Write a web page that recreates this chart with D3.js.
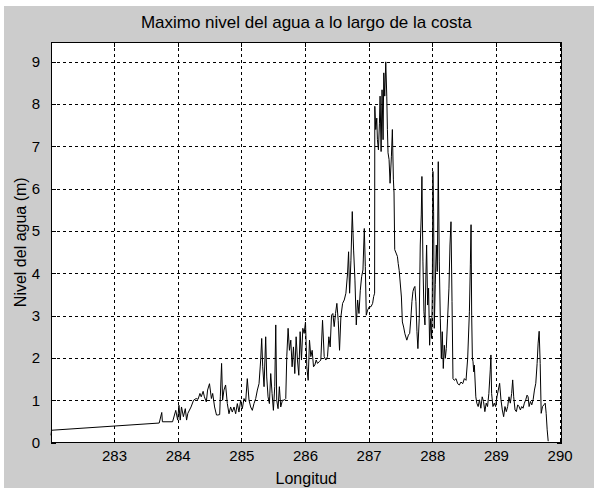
<!DOCTYPE html>
<html>
<head>
<meta charset="utf-8">
<script src="https://cdn.jsdelivr.net/npm/d3@7/dist/d3.min.js"></script>
<style>
  html, body { margin: 0; padding: 0; background: #ffffff; }
  text { font-family: "Liberation Sans", Arial, sans-serif; fill: #000; }
</style>
</head>
<body>
<svg id="chart" width="594" height="488"></svg>
<script>
// Longitud (grados) de cada punto de la costa
const longitud = [
  282.01, 282.02, 283.71, 283.75, 283.76, 283.92, 283.97, 284.00, 284.02, 284.04,
  284.06, 284.09, 284.12, 284.14, 284.16, 284.21, 284.25, 284.29, 284.32, 284.35,
  284.37, 284.40, 284.42, 284.45, 284.47, 284.50, 284.53, 284.55, 284.58, 284.61,
  284.63, 284.66, 284.67, 284.69,
  284.706, 284.727, 284.753, 284.780, 284.806, 284.832, 284.858, 284.885, 284.911, 284.937,
  284.963, 284.990, 285.016, 285.042, 285.068, 285.094, 285.121, 285.147, 285.173, 285.199,
  285.226, 285.252, 285.278, 285.304, 285.320, 285.336, 285.357, 285.383, 285.399, 285.420,
  285.441, 285.462, 285.483, 285.504, 285.525, 285.541, 285.556, 285.577, 285.598, 285.619,
  285.646, 285.672, 285.698, 285.714, 285.735, 285.756, 285.777, 285.798, 285.819, 285.840,
  285.861, 285.882, 285.903, 285.924, 285.945, 285.966, 285.987, 286.008, 286.029, 286.050,
  286.071, 286.092, 286.113, 286.134, 286.155, 286.176, 286.197, 286.223, 286.249, 286.276,
  286.302, 286.328, 286.354, 286.375, 286.396, 286.417, 286.438, 286.459, 286.480, 286.501,
  286.522, 286.543, 286.564, 286.591, 286.617, 286.643, 286.669, 286.685, 286.701, 286.722,
  286.743, 286.764, 286.785, 286.806, 286.827, 286.848, 286.869, 286.890, 286.911, 286.932,
  286.948, 286.963, 286.984, 287.010, 287.037, 287.063, 287.079, 287.094,
  287.097, 287.112, 287.128, 287.138, 287.154, 287.170, 287.180, 287.196, 287.211, 287.227,
  287.238, 287.253, 287.269, 287.285, 287.295, 287.305, 287.321, 287.337, 287.358, 287.373,
  287.389, 287.399, 287.410, 287.431, 287.452, 287.465, 287.480, 287.515, 287.530, 287.550,
  287.570, 287.600, 287.625, 287.645, 287.665,
  287.680, 287.696, 287.711, 287.727, 287.743, 287.759, 287.774, 287.795, 287.811, 287.827,
  287.837, 287.853, 287.869, 287.885, 287.900, 287.911, 287.927, 287.942, 287.958, 287.974,
  287.990, 288.000, 288.010, 288.021, 288.031, 288.047, 288.063, 288.079, 288.094, 288.110,
  288.126, 288.142, 288.157, 288.173, 288.189, 288.205, 288.220, 288.241, 288.262, 288.278,
  288.294, 288.310, 288.325, 288.346, 288.373, 288.399, 288.425, 288.451, 288.478, 288.504,
  288.530, 288.556, 288.583, 288.598, 288.609, 288.619, 288.630, 288.640, 288.651, 288.661,
  288.684, 288.700, 288.721, 288.742, 288.763, 288.784, 288.805, 288.826, 288.847, 288.868,
  288.889, 288.911, 288.921, 288.932, 288.953, 288.974, 288.995, 289.016, 289.037, 289.058,
  289.079, 289.100, 289.121, 289.142, 289.163, 289.184, 289.205, 289.226, 289.247, 289.263,
  289.279, 289.300, 289.321, 289.342, 289.363, 289.384, 289.405, 289.426, 289.447, 289.468,
  289.489, 289.505, 289.521, 289.542, 289.563, 289.584, 289.605, 289.626, 289.647, 289.663,
  289.679, 289.695, 289.711, 289.732, 289.753, 289.774, 289.789, 289.805, 289.821
];

// Máximo nivel del agua (m) en cada punto
const nivel = [
  0.17, 0.29, 0.46, 0.71, 0.49, 0.49, 0.76, 0.53, 0.88, 0.53,
  0.84, 0.61, 0.80, 0.53, 0.69, 0.84, 1.00, 1.04, 1.02, 1.16,
  1.08, 1.21, 1.08, 0.96, 1.24, 1.39, 1.04, 1.16, 0.84, 0.65,
  0.65, 0.66, 1.08, 1.87,
  1.00, 1.24, 1.36, 0.92, 0.68, 0.84, 0.72, 0.84, 0.68, 0.92,
  0.72, 1.00, 0.80, 1.04, 0.96, 1.51, 1.00, 0.84, 0.76, 0.92,
  1.04, 1.24, 1.39, 1.95, 2.46, 1.79, 1.32, 2.50, 1.55, 1.08,
  0.92, 1.63, 1.16, 0.76, 1.32, 2.78, 1.00, 0.80, 1.32, 0.84,
  1.00, 1.00, 1.04, 2.03, 2.70, 2.18, 2.42, 1.79, 2.26, 1.63,
  2.50, 1.95, 1.59, 2.62, 1.95, 2.70, 2.58, 2.85, 1.79, 1.47,
  2.42, 2.03, 2.18, 1.79, 1.83, 1.95, 1.87, 1.91, 1.95, 2.89,
  2.03, 1.95, 2.03, 2.50, 2.26, 3.01, 3.05, 2.74, 3.05, 3.29,
  2.89, 2.18, 2.97, 3.29, 3.37, 3.53, 4.00, 4.51, 3.53, 4.31,
  5.46, 4.55, 3.84, 2.78, 3.37, 3.05, 3.60, 3.92, 4.08, 5.06,
  4.16, 3.01, 3.13, 3.21, 3.21, 3.29, 3.45, 3.53,
  7.95, 7.40, 7.67, 7.16, 6.92, 7.55, 8.19, 6.88, 8.34, 7.16,
  8.74, 8.19, 9.00, 8.19, 7.40, 6.85, 6.69, 6.13, 6.77, 7.40,
  6.21, 5.90, 4.56, 4.48, 4.40, 4.23, 4.07, 3.44, 2.85, 2.73,
  2.57, 2.42, 2.54, 2.58, 2.97,
  3.33, 3.57, 3.65, 3.69, 3.33, 2.62, 2.22, 2.93, 4.67, 5.38,
  6.29, 4.27, 3.09, 2.78, 3.96, 4.67, 3.25, 3.65, 2.30, 2.93,
  2.46, 3.49, 6.41, 5.46, 2.70, 3.73, 4.67, 4.04, 6.64, 4.27,
  2.93, 1.99, 2.62, 1.75, 2.30, 1.99, 2.22, 2.93, 3.65, 4.67,
  5.22, 3.33, 1.51, 1.47, 1.51, 1.39, 1.36, 1.43, 1.39, 1.51,
  1.47, 1.99, 3.09, 4.20, 5.15, 3.01, 1.99, 1.91, 1.67, 1.83,
  1.08, 0.93, 0.85, 1.01, 0.81, 1.08, 0.97, 0.73, 0.93, 0.85,
  1.16, 1.72, 2.07, 1.16, 0.85, 0.93, 0.85, 1.08, 1.24, 1.40,
  1.01, 0.77, 0.61, 0.85, 0.73, 0.85, 1.08, 0.93, 1.16, 1.48,
  1.08, 0.77, 0.73, 0.89, 0.85, 0.77, 0.85, 0.81, 0.93, 1.01,
  1.12, 1.08, 0.85, 0.97, 0.89, 1.01, 1.24, 1.40, 1.87, 2.35,
  2.63, 1.87, 0.69, 0.85, 0.89, 0.93, 0.69, 0.30, 0.03
];

const xTicks = [283, 284, 285, 286, 287, 288, 289, 290];
const yTicks = [0, 1, 2, 3, 4, 5, 6, 7, 8, 9];
const xDomain = [282.01, 290.03];
const yDomain = [0, 9.47];

const titulo = "Maximo nivel del agua a lo largo de la costa";
const etiquetaX = "Longitud";
const etiquetaY = "Nivel del agua (m)";

const W = 594, H = 488;
const plot = { left: 51, top: 42, right: 561.5, bottom: 442.5 };

const svg = d3.select("#chart");

// figure background
svg.append("rect").attr("x", 0).attr("y", 0).attr("width", W).attr("height", H).attr("fill", "#ffffff");
svg.append("rect").attr("x", 4).attr("y", 6).attr("width", W - 4).attr("height", H - 6).attr("fill", "#cccccc");

const x = d3.scaleLinear().domain(xDomain).range([plot.left, plot.right]);
const y = d3.scaleLinear().domain(yDomain).range([plot.bottom, plot.top]);

// axes area
svg.append("rect")
  .attr("x", plot.left).attr("y", plot.top)
  .attr("width", plot.right - plot.left).attr("height", plot.bottom - plot.top)
  .attr("fill", "#ffffff");

// dashed grid
const grid = svg.append("g").attr("stroke", "#000").attr("stroke-width", 1)
  .attr("stroke-dasharray", "3,3").attr("shape-rendering", "crispEdges");
grid.selectAll("line.gx").data(xTicks).join("line")
  .attr("class", "gx")
  .attr("x1", d => Math.round(x(d)) + 0.5).attr("x2", d => Math.round(x(d)) + 0.5)
  .attr("y1", plot.top).attr("y2", plot.bottom);
grid.selectAll("line.gy").data(yTicks.filter(d => d > 0)).join("line")
  .attr("class", "gy")
  .attr("y1", d => Math.round(y(d)) + 0.5).attr("y2", d => Math.round(y(d)) + 0.5)
  .attr("x1", plot.left).attr("x2", plot.right);

// data line
const line = d3.line().x((d, i) => x(longitud[i])).y(d => y(d));
svg.append("path")
  .datum(nivel)
  .attr("fill", "none")
  .attr("stroke", "#000")
  .attr("stroke-width", 1)
  .attr("d", line);

// axes with inward ticks on all four sides
const tickLen = 5;
const axisStyle = g => {
  g.select(".domain").remove();
  g.selectAll(".tick line").attr("stroke", "#000").attr("shape-rendering", "crispEdges");
  g.selectAll(".tick text").style("font-size", "15px").style("font-family", "'Liberation Sans', Arial, sans-serif");
};

svg.append("g")
  .attr("transform", `translate(0,${plot.bottom})`)
  .call(d3.axisBottom(x).tickValues(xTicks).tickSize(-tickLen).tickPadding(8).tickFormat(d3.format("d")))
  .call(axisStyle);
svg.append("g")
  .attr("transform", `translate(0,${plot.top})`)
  .call(d3.axisTop(x).tickValues(xTicks).tickSize(-tickLen).tickFormat(""))
  .call(axisStyle);
svg.append("g")
  .attr("transform", `translate(${plot.left},0)`)
  .call(d3.axisLeft(y).tickValues(yTicks).tickSize(-tickLen).tickPadding(11).tickFormat(d3.format("d")))
  .call(axisStyle);
svg.append("g")
  .attr("transform", `translate(${plot.right},0)`)
  .call(d3.axisRight(y).tickValues(yTicks).tickSize(-tickLen).tickFormat(""))
  .call(axisStyle);

// box
svg.append("rect")
  .attr("x", plot.left + 0.5).attr("y", plot.top + 0.5)
  .attr("width", plot.right - plot.left - 1).attr("height", plot.bottom - plot.top - 1)
  .attr("fill", "none").attr("stroke", "#000").attr("stroke-width", 1)
  .attr("shape-rendering", "crispEdges");

// labels
const cx = (plot.left + plot.right) / 2;
svg.append("text").attr("x", cx).attr("y", 28)
  .attr("text-anchor", "middle").style("font-size", "17px").text(titulo);
svg.append("text").attr("x", cx).attr("y", 484)
  .attr("text-anchor", "middle").style("font-size", "16px").text(etiquetaX);
svg.append("text")
  .attr("transform", `translate(26,${(plot.top + plot.bottom) / 2}) rotate(-90)`)
  .attr("text-anchor", "middle").style("font-size", "16px").text(etiquetaY);
</script>
</body>
</html>
